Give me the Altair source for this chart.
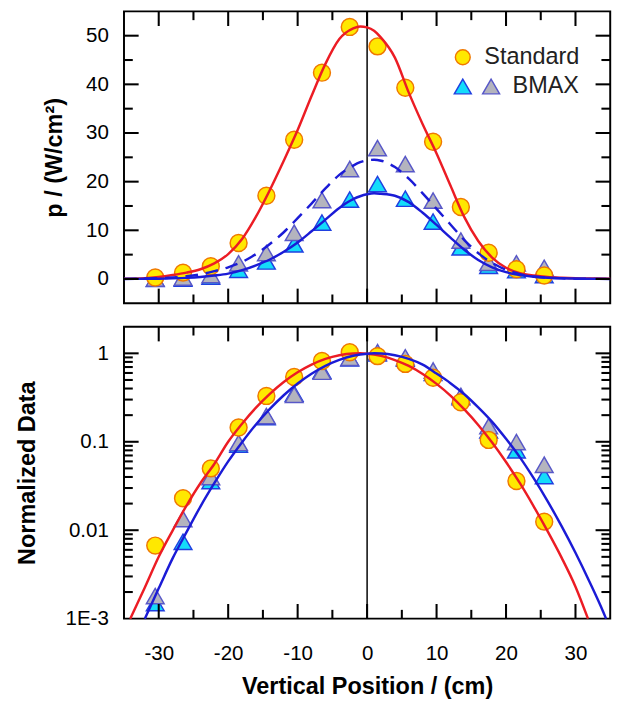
import altair as alt
import pandas as pd

# ---------------- data ----------------
positions = [-30.5, -26.5, -22.5, -18.5, -14.5, -10.5, -6.5, -2.5, 1.5, 5.5, 9.5, 13.5, 17.5, 21.5, 25.5]

standard_p = [0.3, 1.3, 2.6, 7.4, 17.1, 28.6, 42.4, 51.8, 47.8, 39.3, 28.2, 14.8, 5.4, 2.0, 0.7]
bmax_cyan_p = [0.0, 0.1, 0.5, 1.9, 3.6, 7.1, 11.6, 16.3, 19.5, 16.5, 11.8, 6.5, 2.7, 1.8, 0.8]
bmax_gray_p = [0.1, 0.3, 0.8, 3.2, 5.3, 9.5, 16.2, 22.6, 26.9, 23.6, 16.1, 7.9, 3.3, 3.2, 2.3]

standard_norm = [0.0067, 0.023, 0.050, 0.145, 0.33, 0.54, 0.82, 1.03, 0.93, 0.76, 0.53, 0.28, 0.105, 0.036, 0.0125]
bmax_cyan_norm = [0.0015, 0.0074, 0.036, 0.093, 0.19, 0.35, 0.64, 0.88, 1.0, 0.87, 0.60, 0.32, 0.135, 0.080, 0.041]
bmax_gray_norm = [0.0018, 0.0134, 0.040, 0.097, 0.195, 0.34, 0.62, 0.89, 1.03, 0.90, 0.64, 0.33, 0.150, 0.099, 0.055]

fit_x = [-35, -32, -30, -28, -26, -24, -22, -20, -18, -16, -14, -12, -10, -8, -6, -4, -2, -1, 0,
         1, 2, 4, 6, 8, 10, 12, 14, 16, 18, 20, 22, 24, 26, 28, 30, 32, 35]
fit_standard_p = [0.05, 0.15, 0.4, 0.8, 1.3, 2.0, 3.2, 5.1, 8.2, 12.8, 18.3, 24.3, 30.6, 37.6, 44.2, 49.3, 51.5, 51.9, 51.7,
                  51.0, 49.6, 45.5, 38.3, 31.8, 25.8, 19.2, 12.7, 7.8, 4.4, 2.3, 1.2, 0.7, 0.4, 0.25, 0.15, 0.1, 0.05]
fit_bmax_p = [0.0, 0.03, 0.06, 0.12, 0.22, 0.4, 0.7, 1.1, 1.8, 2.8, 4.0, 5.6, 7.5, 9.8, 12.2, 14.6, 16.4, 17.0, 17.4,
              17.6, 17.5, 17.1, 15.8, 13.6, 11.1, 8.5, 6.0, 3.9, 2.4, 1.4, 0.8, 0.45, 0.25, 0.13, 0.07, 0.03, 0.01]
fit_bmax_dashed_p = [0.02, 0.08, 0.15, 0.3, 0.55, 0.95, 1.6, 2.4, 3.5, 5.1, 7.2, 9.6, 12.5, 15.5, 18.6, 21.4, 23.3, 24.0, 24.4,
                     24.5, 24.3, 23.0, 20.6, 17.6, 14.4, 11.2, 8.0, 5.3, 3.3, 1.9, 1.0, 0.5, 0.25, 0.12, 0.06, 0.03, 0.01]

log_fit_x_standard = [-34.1, -32, -30, -28, -26, -24, -22, -20, -18, -16, -14, -12, -10, -8, -6, -4, -2, -1, 0,
                      2, 4, 6, 8, 10, 12, 14, 16, 18, 20, 22, 24, 26, 28, 30, 31.8]
log_fit_standard = [0.001, 0.00225, 0.0050, 0.0099, 0.019, 0.034, 0.056, 0.100, 0.160, 0.243, 0.348, 0.474, 0.61, 0.745,
                    0.865, 0.952, 0.996, 1.0, 0.99, 0.935, 0.84, 0.72, 0.585, 0.452, 0.333, 0.232, 0.155, 0.098,
                    0.059, 0.034, 0.0185, 0.0097, 0.0049, 0.0023, 0.001]
log_fit_x_bmax = [-32, -30, -28, -26, -24, -22, -20, -18, -16, -14, -12, -10, -8, -6, -4, -2, 0, 1,
                  2, 4, 6, 8, 10, 12, 14, 16, 18, 20, 22, 24, 26, 28, 30, 32, 34, 34.4]
log_fit_bmax = [0.001, 0.0022, 0.0048, 0.0095, 0.0185, 0.034, 0.060, 0.099, 0.157, 0.235, 0.336, 0.456, 0.589, 0.723,
                0.844, 0.938, 0.991, 1.0, 0.996, 0.952, 0.866, 0.745, 0.59, 0.46, 0.345, 0.245, 0.168, 0.108,
                0.0666, 0.0385, 0.0212, 0.0111, 0.00555, 0.00263, 0.00119, 0.001]

x_major = [-30, -20, -10, 0, 10, 20, 30]
x_minor = [-25, -15, -5, 5, 15, 25]
p_major = [0, 10, 20, 30, 40, 50]
p_minor = [5, 15, 25, 35, 45]
n_major = [0.01, 0.1, 1]
n_labels = [0.001, 0.01, 0.1, 1]
n_minor = [0.002, 0.003, 0.004, 0.005, 0.006, 0.007, 0.008, 0.009,
           0.02, 0.03, 0.04, 0.05, 0.06, 0.07, 0.08, 0.09,
           0.2, 0.3, 0.4, 0.5, 0.6, 0.7, 0.8, 0.9]
legend_labels = ["Standard", "BMAX"]

# ---------------- styling ----------------
W, H = 498, 299
FONT = "Liberation Sans"
RED = "#EC1C24"
BLUE = "#1B1BD6"
CIRCLE_FILL = "#FFE800"
CIRCLE_STROKE = "#F07800"
CYAN_FILL = "#14DCFA"
CYAN_STROKE = "#2040E0"
GRAY_FILL = "#B4B4BE"
GRAY_STROKE = "#5858C8"
MAJ, MIN = 15, 9          # tick lengths in pixels
TW = 2.1                  # tick width in pixels

x_scale = alt.Scale(domain=[-35, 35], nice=False, zero=False)
p_scale = alt.Scale(domain=[-5, 55], nice=False, zero=False)
n_scale = alt.Scale(type="log", domain=[0.001, 2], nice=False)

common_axis = dict(grid=False, domain=False, ticks=False,
                   labelFont=FONT, labelFontSize=21, labelColor="black",
                   titleFont=FONT, titleFontSize=24, titleFontWeight="bold", titleColor="black")

x_axis_bottom = alt.Axis(values=x_major, labelExpr="'' + datum.value", title="Vertical Position / (cm)",
                         labelPadding=25, titlePadding=12, **common_axis)
p_axis = alt.Axis(values=p_major, title="p / (W/cm²)", labelPadding=16, titlePadding=20, **common_axis)
n_axis = alt.Axis(values=n_labels,
                  labelExpr="datum.value > 0.5 ? '1' : datum.value > 0.05 ? '0.1' : datum.value > 0.005 ? '0.01' : '1E-3'",
                  title="Normalized Data", labelPadding=16, titlePadding=26, **common_axis)


def make_X(axis):
    def X(field):
        return alt.X(f"{field}:Q", scale=x_scale, axis=axis)
    return X


def make_Y(scale, axis):
    def Y(field):
        return alt.Y(f"{field}:Q", scale=scale, axis=axis)
    return Y


def tick_shape(L, direction):
    """Filled bar-shaped symbol path: starts at the anchor and runs L pixels in `direction`.
    Symbol paths are scaled by sqrt(size)/2, so with size = L**2 the unit 2 equals L pixels."""
    h = TW / L  # half width in path units (scale is L/2 px per unit)
    if direction == "down":
        return f"M{-h},0L{h},0L{h},2L{-h},2Z"
    if direction == "up":
        return f"M{-h},0L{h},0L{h},-2L{-h},-2Z"
    if direction == "right":
        return f"M0,{-h}L2,{-h}L2,{h}L0,{h}Z"
    return f"M0,{-h}L-2,{-h}L-2,{h}L0,{h}Z"


def tick_layers(X, Y, ymaj, ymin):
    """Inward frame ticks on the four sides (major and minor)."""
    layers = []
    for vals, L in ((x_major, MAJ), (x_minor, MIN)):
        df = pd.DataFrame({"x": vals})
        for yv, d in ((0, "down"), (H, "up")):
            layers.append(alt.Chart(df).mark_point(shape=tick_shape(L, d), size=L * L, filled=True,
                                                   fill="black", strokeWidth=0, opacity=1).encode(
                x=X("x"), y=alt.value(yv)))
    for vals, L in ((ymaj, MAJ), (ymin, MIN)):
        df = pd.DataFrame({"v": vals})
        for xv, d in ((0, "right"), (W, "left")):
            layers.append(alt.Chart(df).mark_point(shape=tick_shape(L, d), size=L * L, filled=True,
                                                   fill="black", strokeWidth=0, opacity=1).encode(
                y=Y("v"), x=alt.value(xv)))
    return layers


def markers(X, Y, std, cyan, gray):
    df = pd.DataFrame({"x": positions, "std": std, "cyan": cyan, "gray": gray})
    cyan_l = alt.Chart(df).mark_point(shape="triangle-up", filled=True, fill=CYAN_FILL, stroke=CYAN_STROKE,
                                      strokeWidth=1.5, size=330, opacity=1).encode(x=X("x"), y=Y("cyan"))
    gray_l = alt.Chart(df).mark_point(shape="triangle-up", filled=True, fill=GRAY_FILL, stroke=GRAY_STROKE,
                                      strokeWidth=1.5, size=330, opacity=1).encode(x=X("x"), y=Y("gray"))
    std_l = alt.Chart(df).mark_point(shape="circle", filled=True, fill=CIRCLE_FILL, stroke=CIRCLE_STROKE,
                                     strokeWidth=1.5, size=300, opacity=1).encode(x=X("x"), y=Y("std"))
    return [cyan_l, gray_l, std_l]


# ---------------- top panel ----------------
Xt = make_X(None)
Yt = make_Y(p_scale, p_axis)

zero_df = pd.DataFrame({"x": [0]})
top_zero = alt.Chart(zero_df).mark_rule(color="black", strokeWidth=1.5).encode(x=Xt("x"))

fit_df = pd.DataFrame({"x": fit_x, "std": fit_standard_p, "bmax": fit_bmax_p, "bmaxd": fit_bmax_dashed_p})
top_red = alt.Chart(fit_df).mark_line(color=RED, strokeWidth=2.5, interpolate="monotone").encode(
    x=Xt("x"), y=Yt("std"))
top_blue = alt.Chart(fit_df).mark_line(color=BLUE, strokeWidth=2.5, interpolate="monotone").encode(
    x=Xt("x"), y=Yt("bmax"))
top_dash = alt.Chart(fit_df).mark_line(color=BLUE, strokeWidth=2.5, strokeDash=[13, 8],
                                       interpolate="monotone").encode(x=Xt("x"), y=Yt("bmaxd"))

leg_df = pd.DataFrame({"label": [legend_labels[0]]})
leg_df2 = pd.DataFrame({"label": [legend_labels[1]]})
leg_circle = alt.Chart(leg_df).mark_point(shape="circle", filled=True, fill=CIRCLE_FILL, stroke=CIRCLE_STROKE,
                                          strokeWidth=1.5, size=230, opacity=1).encode(
    x=alt.value(347), y=alt.value(47))
leg_cyan = alt.Chart(leg_df2).mark_point(shape="triangle-up", filled=True, fill=CYAN_FILL, stroke=CYAN_STROKE,
                                         strokeWidth=1.5, size=300, opacity=1).encode(
    x=alt.value(347), y=alt.value(77))
leg_gray = alt.Chart(leg_df2).mark_point(shape="triangle-up", filled=True, fill=GRAY_FILL, stroke=GRAY_STROKE,
                                         strokeWidth=1.5, size=300, opacity=1).encode(
    x=alt.value(376), y=alt.value(77))
leg_t1 = alt.Chart(leg_df).mark_text(align="left", baseline="middle", fontSize=24, font=FONT, color="#222").encode(
    x=alt.value(369), y=alt.value(47), text="label:N")
leg_t2 = alt.Chart(leg_df2).mark_text(align="left", baseline="middle", fontSize=24, font=FONT, color="#222").encode(
    x=alt.value(398), y=alt.value(77), text="label:N")

top_layers = [top_zero] + markers(Xt, Yt, standard_p, bmax_cyan_p, bmax_gray_p) + [top_red, top_blue, top_dash] \
    + [leg_circle, leg_cyan, leg_gray, leg_t1, leg_t2] + tick_layers(Xt, Yt, p_major, p_minor)
top = alt.layer(*top_layers).properties(width=W, height=H)

# ---------------- bottom panel ----------------
Xb = make_X(x_axis_bottom)
Yb = make_Y(n_scale, n_axis)

bot_zero = alt.Chart(zero_df).mark_rule(color="black", strokeWidth=1.5).encode(x=Xb("x"))
log_std_df = pd.DataFrame({"x": log_fit_x_standard, "v": log_fit_standard})
log_bmax_df = pd.DataFrame({"x": log_fit_x_bmax, "v": log_fit_bmax})
bot_red = alt.Chart(log_std_df).mark_line(color=RED, strokeWidth=2.5, interpolate="monotone").encode(
    x=Xb("x"), y=Yb("v"))
bot_blue = alt.Chart(log_bmax_df).mark_line(color=BLUE, strokeWidth=2.5, interpolate="monotone").encode(
    x=Xb("x"), y=Yb("v"))

bot_layers = [bot_zero] + markers(Xb, Yb, standard_norm, bmax_cyan_norm, bmax_gray_norm) + [bot_red, bot_blue] \
    + tick_layers(Xb, Yb, n_major, n_minor)
bottom = alt.layer(*bot_layers).properties(width=W, height=H)

chart = alt.vconcat(top, bottom, spacing=20).properties(
    padding={"left": 15, "top": 1, "right": 3, "bottom": 5}
).configure_view(stroke="black", strokeWidth=2)

chart.save("out.html", embed_options={"renderer": "svg", "actions": False})
